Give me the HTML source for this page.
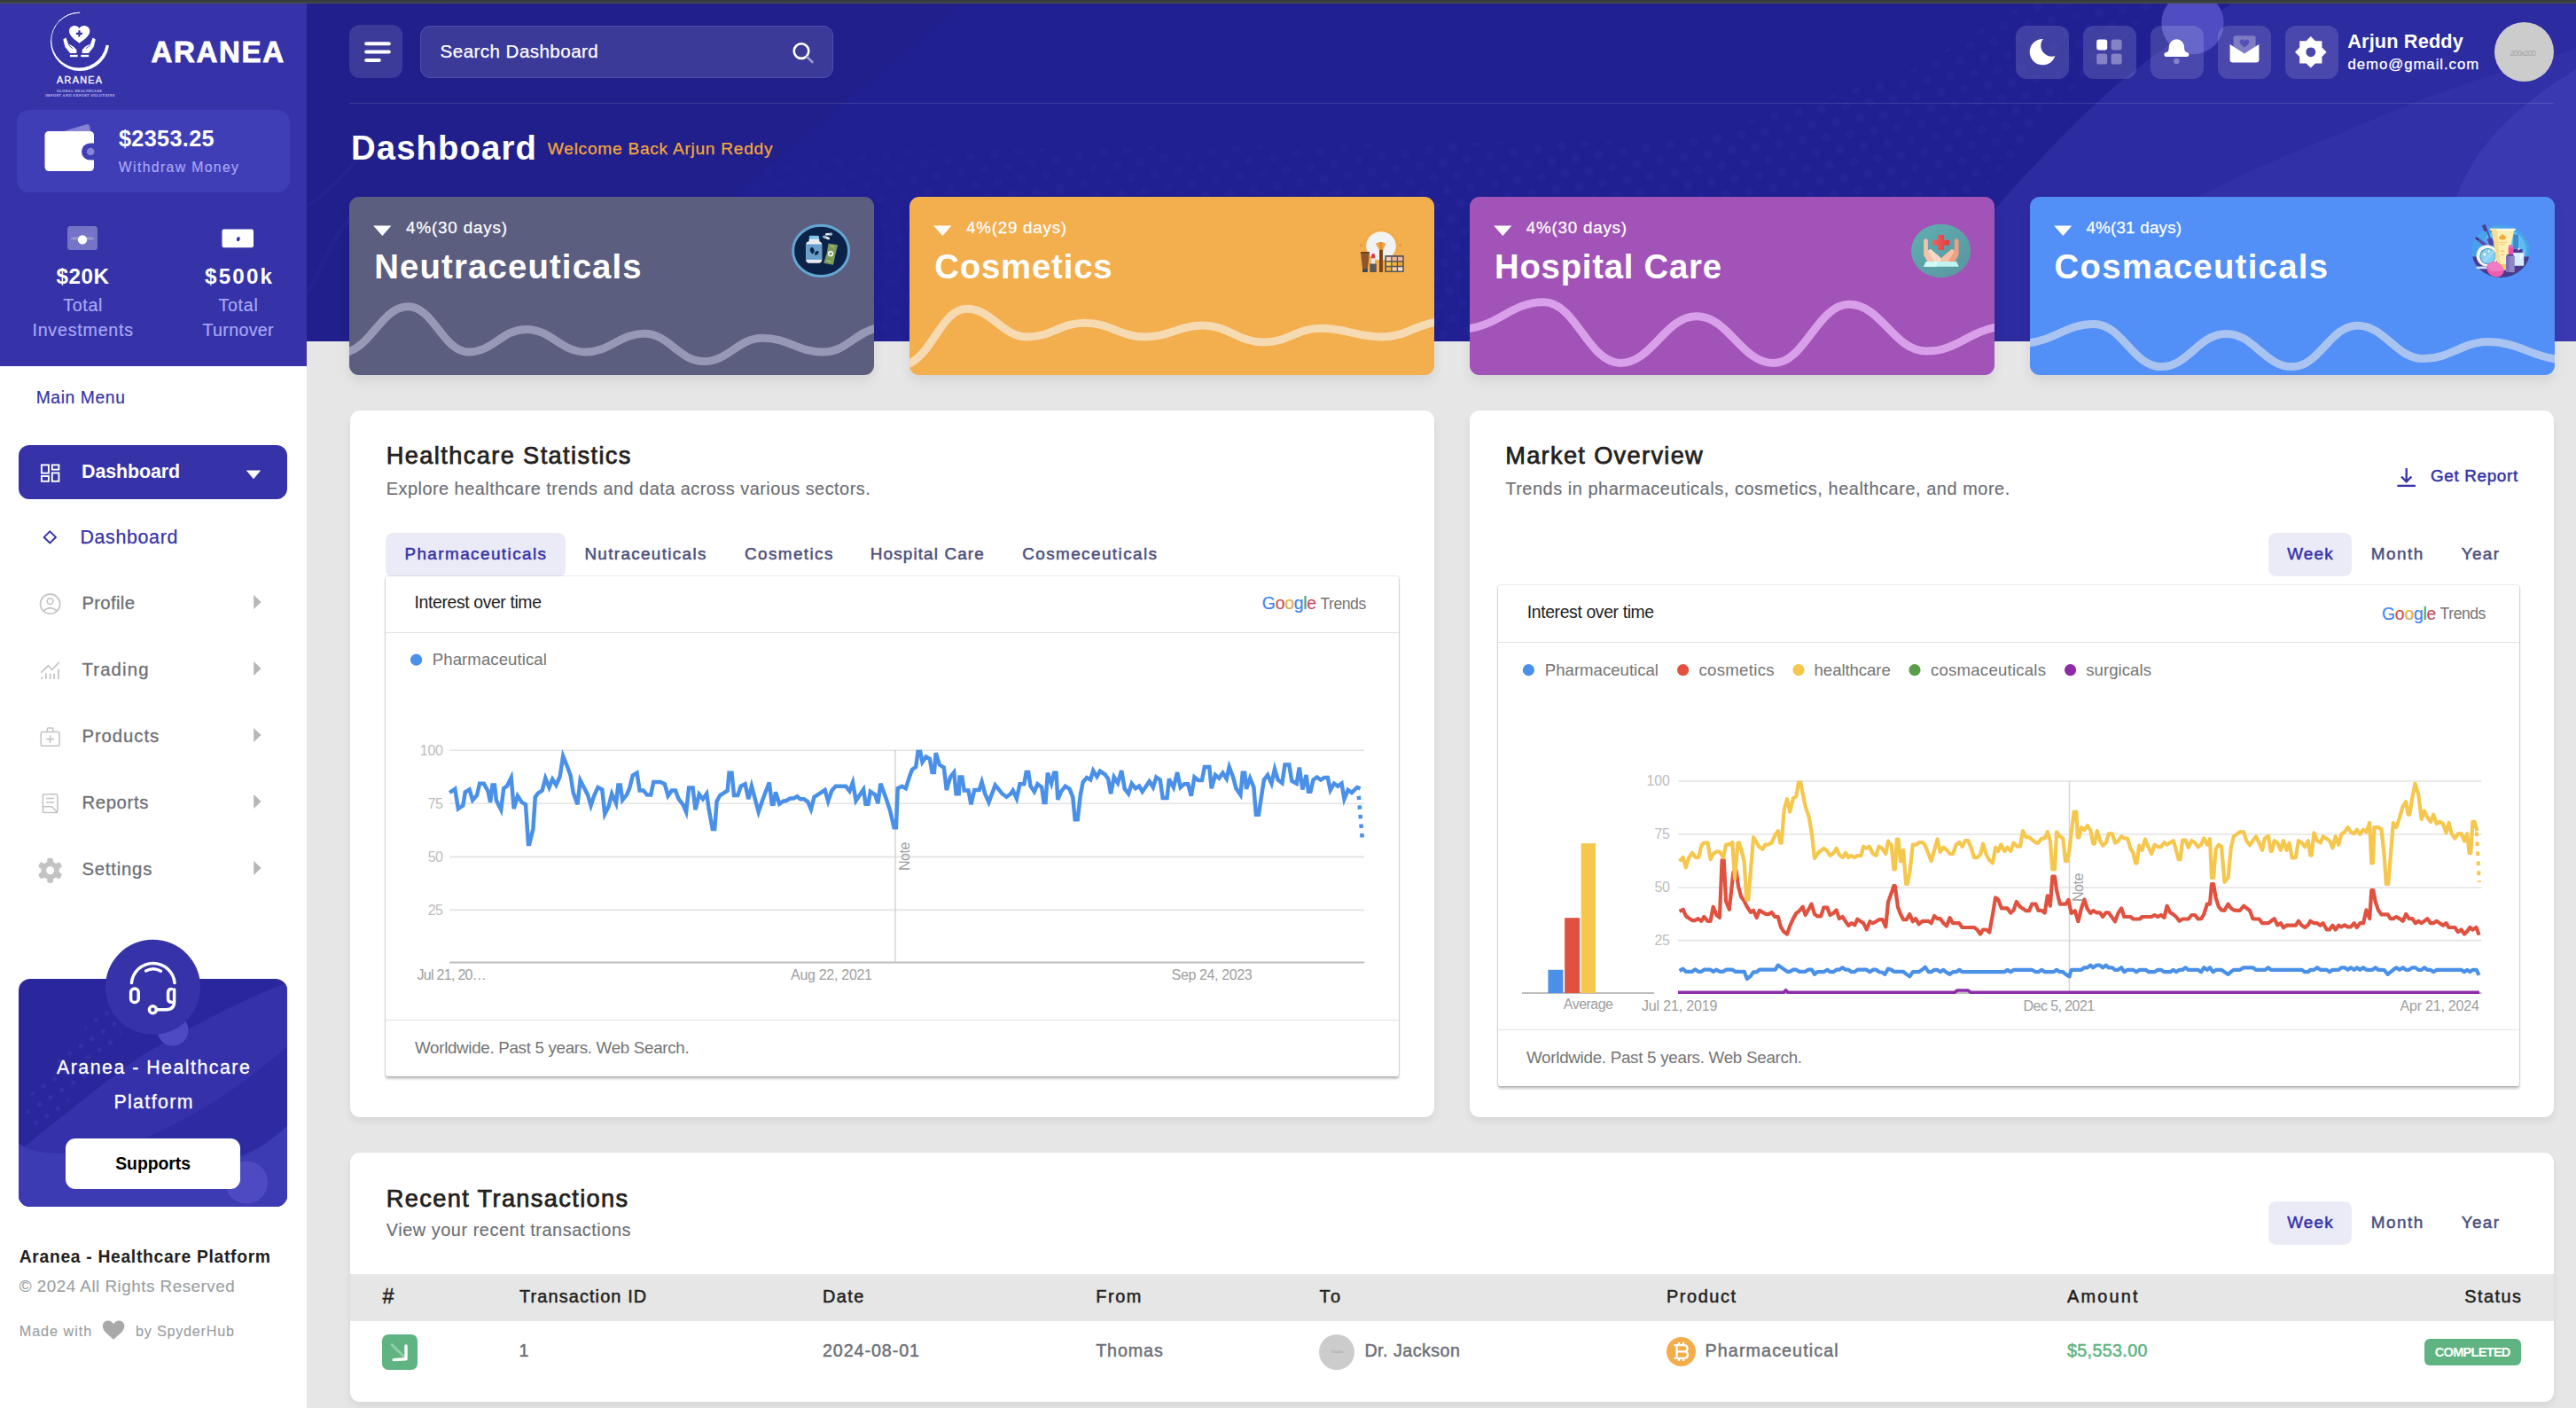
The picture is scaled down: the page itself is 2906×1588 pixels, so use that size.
<!DOCTYPE html>
<html lang="en"><head><meta charset="utf-8"><title>Aranea - Healthcare Platform</title><style>
*{box-sizing:border-box;margin:0;padding:0}
html,body{width:2906px;height:1588px;overflow:hidden;background:#e6e6e6;font-family:"Liberation Sans",sans-serif}
#root{position:relative;width:2906px;height:1588px;overflow:hidden}
.t{position:absolute;white-space:nowrap;line-height:1;font-family:"Liberation Sans",sans-serif}
.sf{font-family:"Liberation Serif",serif}
.mf{font-family:"Liberation Mono",monospace}
svg{position:absolute;overflow:visible}
</style></head><body><div id="root">
<div style="position:absolute;left:0px;top:0px;width:346px;height:1588px;background:#fff;"></div>
<div style="position:absolute;left:0px;top:0px;width:346px;height:413px;background:#3633a8;"></div>
<svg style="left:40px;top:6px" width="110" height="110" viewBox="40 6 110 110">
<defs><mask id="ringm" maskUnits="userSpaceOnUse" x="40" y="6" width="110" height="110">
<circle cx="90.15" cy="46.95" r="33.1" fill="#fff"/><circle cx="89.1" cy="45.6" r="30.9" fill="#000"/>
<path d="M89.6 46.2 L90.6 -13.8 L160 -20 L148.9 55.1 Z" fill="#000"/></mask></defs>
<rect x="40" y="6" width="110" height="110" fill="#fff" mask="url(#ringm)"/>
<path d="M88.9 14.3 Q76 14.6 66.5 24" fill="none" stroke="#fff" stroke-width=".9" stroke-linecap="round"/>
<g transform="translate(40 6) scale(0.078125)">
<path d="M634 548 C560 492 487 440 487 372 C487 322 524 293 566 293 C596 293 620 308 634 332 C648 308 672 293 702 293 C744 293 785 322 785 372 C785 440 708 492 634 548 Z" fill="#fff"/>
<path d="M619 363 H647 V394 H678 V422 H647 V453 H619 V422 H588 V394 H619 Z" fill="#3633a8"/>
<path d="M400 494 L440 468 L480 558 L552 598 L594 642 L594 692 L500 692 L428 600 Z" fill="#fff"/>
<path d="M868 494 L828 468 L788 558 L716 598 L674 642 L674 692 L768 692 L840 600 Z" fill="#fff"/>
<path d="M455 480 Q470 535 490 585 L540 625" fill="none" stroke="#3633a8" stroke-width="11"/>
<path d="M813 480 Q798 535 778 585 L728 625" fill="none" stroke="#3633a8" stroke-width="11"/>
<rect x="498" y="715" width="112" height="30" fill="#fff"/><rect x="656" y="715" width="114" height="30" fill="#fff"/>
</g></svg>
<div class="t" style="left:64.0px;top:84.8px;font-size:10.8px;color:#fff;font-weight:400;letter-spacing:1.32px;-webkit-text-stroke:0.3px #fff;">ARANEA</div>
<div class="t sf" style="left:64.0px;top:100.7px;font-size:4px;color:#cfcef2;font-weight:400;letter-spacing:0.48px;-webkit-text-stroke:0.1px #cfcef2;">GLOBAL HEALTHCARE</div>
<div class="t sf" style="left:51.2px;top:105.6px;font-size:4px;color:#cfcef2;font-weight:400;letter-spacing:0.55px;-webkit-text-stroke:0.1px #cfcef2;">IMPORT AND EXPORT SOLUTIONS</div>
<div class="t" style="left:170.6px;top:42.3px;font-size:33px;color:#fff;font-weight:700;letter-spacing:1.65px;-webkit-text-stroke:0.9px #fff;">ARANEA</div>
<div style="position:absolute;left:19px;top:124px;width:308px;height:93px;background:#403eb6;border-radius:14px;"></div>
<svg style="left:44px;top:134px" width="70" height="66" viewBox="44 134 70 66">
<path d="M70 148.5 L97.5 140.2 Q100.3 139.5 101 142.2 L102.4 148.5 Z" fill="#8583d2"/>
<path d="M55.5 148 H101 Q106 148 106 153 V188 Q106 193 101 193 H55.5 Q50.5 193 50.5 188 V153 Q50.5 148 55.5 148 Z" fill="#fff"/>
<path d="M106.2 161.4 H101.6 A9.6 9.6 0 0 0 101.6 180.6 H106.2 Z" fill="#403eb6"/>
<circle cx="102.2" cy="171" r="4.3" fill="#8583d2"/>
</svg>
<div class="t" style="left:134.0px;top:143.5px;font-size:25.2px;color:#fff;font-weight:700;letter-spacing:0.35px;">$2353.25</div>
<div class="t" style="left:133.8px;top:181.2px;font-size:15.8px;color:#a9a8f7;font-weight:400;letter-spacing:1.35px;-webkit-text-stroke:0.15px #a9a8f7;">Withdraw Money</div>
<svg style="left:70px;top:250px" width="230" height="40" viewBox="70 250 230 40">
<rect x="76" y="255" width="34" height="27" rx="3.5" fill="#7674c6"/>
<path d="M79.5 270.2 Q80 267.6 82.5 267.6 H103.5 Q106 267.6 106.5 270.2 Z" fill="#9a98d8"/>
<circle cx="93" cy="270.4" r="5.2" fill="#fff"/>
<rect x="250.5" y="258.6" width="35.5" height="20.6" rx="2.2" fill="#fff"/>
<ellipse cx="268.8" cy="269.6" rx="1.9" ry="2.6" fill="#3633a8" transform="rotate(20 268.8 269.6)"/>
</svg>
<div class="t" style="left:63.5px;top:300.3px;font-size:24.2px;color:#fff;font-weight:700;letter-spacing:0.52px;">$20K</div>
<div class="t" style="left:231.0px;top:300.3px;font-size:24.2px;color:#fff;font-weight:700;letter-spacing:2.18px;">$500k</div>
<div class="t" style="left:71.2px;top:334.5px;font-size:19.6px;color:#a9a8f7;font-weight:400;letter-spacing:0.70px;-webkit-text-stroke:0.2px #a9a8f7;">Total</div>
<div class="t" style="left:246.4px;top:334.5px;font-size:19.6px;color:#a9a8f7;font-weight:400;letter-spacing:0.75px;-webkit-text-stroke:0.2px #a9a8f7;">Total</div>
<div class="t" style="left:36.4px;top:362.7px;font-size:19.6px;color:#a9a8f7;font-weight:400;letter-spacing:0.81px;-webkit-text-stroke:0.2px #a9a8f7;">Investments</div>
<div class="t" style="left:228.4px;top:362.7px;font-size:19.6px;color:#a9a8f7;font-weight:400;letter-spacing:0.36px;-webkit-text-stroke:0.2px #a9a8f7;">Turnover</div>
<div class="t" style="left:40.7px;top:439.0px;font-size:19.3px;color:#3633a8;font-weight:400;letter-spacing:0.60px;-webkit-text-stroke:0.2px #3633a8;">Main Menu</div>
<div style="position:absolute;left:21px;top:502px;width:303px;height:61px;background:#3633a8;border-radius:12px;"></div>
<svg style="left:44px;top:520px" width="260" height="28" viewBox="44 520 260 28">
<g fill="none" stroke="#fff" stroke-width="1.9">
<rect x="46.9" y="524.4" width="8" height="9.2"/><rect x="58.8" y="524.4" width="7.6" height="5.2"/>
<rect x="46.9" y="537" width="8" height="5.8"/><rect x="58.8" y="533.4" width="7.6" height="9.4"/></g>
<path d="M277.8 530.6 H294.2 L286 540.2 Z" fill="#fff"/>
</svg>
<div class="t" style="left:92.0px;top:521.7px;font-size:21.4px;color:#fff;font-weight:700;letter-spacing:-0.07px;">Dashboard</div>
<svg style="left:44px;top:594px" width="30" height="24" viewBox="44 594 30 24">
<path d="M56.3 599.4 L62.9 605.9 L56.3 612.4 L49.7 605.9 Z" fill="none" stroke="#3633a8" stroke-width="2"/></svg>
<div class="t" style="left:90.4px;top:595.5px;font-size:21.4px;color:#3633a8;font-weight:400;letter-spacing:0.66px;-webkit-text-stroke:0.25px #3633a8;">Dashboard</div>
<div class="t" style="left:92.4px;top:669.8px;font-size:20.3px;color:#6c6f75;font-weight:400;letter-spacing:0.35px;-webkit-text-stroke:0.3px #6c6f75;">Profile</div>
<svg style="left:284px;top:669.1px" width="14" height="20" viewBox="0 0 14 20"><path d="M2.2 2 L10.6 10 L2.2 18 Z" fill="#b7b7b7"/></svg>
<div class="t" style="left:92.4px;top:744.6px;font-size:20.3px;color:#6c6f75;font-weight:400;letter-spacing:1.18px;-webkit-text-stroke:0.3px #6c6f75;">Trading</div>
<svg style="left:284px;top:743.9px" width="14" height="20" viewBox="0 0 14 20"><path d="M2.2 2 L10.6 10 L2.2 18 Z" fill="#b7b7b7"/></svg>
<div class="t" style="left:92.4px;top:819.8px;font-size:20.3px;color:#6c6f75;font-weight:400;letter-spacing:0.96px;-webkit-text-stroke:0.3px #6c6f75;">Products</div>
<svg style="left:284px;top:819.1px" width="14" height="20" viewBox="0 0 14 20"><path d="M2.2 2 L10.6 10 L2.2 18 Z" fill="#b7b7b7"/></svg>
<div class="t" style="left:92.4px;top:894.9px;font-size:20.3px;color:#6c6f75;font-weight:400;letter-spacing:0.66px;-webkit-text-stroke:0.3px #6c6f75;">Reports</div>
<svg style="left:284px;top:894.2px" width="14" height="20" viewBox="0 0 14 20"><path d="M2.2 2 L10.6 10 L2.2 18 Z" fill="#b7b7b7"/></svg>
<div class="t" style="left:92.4px;top:970.1px;font-size:20.3px;color:#6c6f75;font-weight:400;letter-spacing:0.81px;-webkit-text-stroke:0.3px #6c6f75;">Settings</div>
<svg style="left:284px;top:969.4px" width="14" height="20" viewBox="0 0 14 20"><path d="M2.2 2 L10.6 10 L2.2 18 Z" fill="#b7b7b7"/></svg>
<svg style="left:40px;top:664px" width="34" height="340" viewBox="40 664 34 340">
<g fill="none" stroke="#c3c3c3" stroke-width="1.55">
<circle cx="56.6" cy="681.2" r="11.1"/><circle cx="56.6" cy="678.1" r="3.4"/>
<path d="M48.9 689.3 Q56.6 682 64.3 689.3"/>
<path d="M46.4 758.6 L54.4 750.6 L58.6 755.4 L66.9 746.9" stroke-linejoin="miter"/>
<path d="M47.3 763.4 V766 M51.8 759 V766 M56.6 759.8 V766 M61.1 759.8 V766 M66 754.6 V766" stroke-width="1.7"/>
<rect x="46.3" y="825.5" width="20.7" height="15.8" rx="1.4"/>
<path d="M53.4 825.2 V822 Q53.4 820.9 54.5 820.9 H58.7 Q59.8 820.9 59.8 822 V825.2"/>
<path d="M56.6 829.3 V837.9 M52.3 833.6 H60.9"/>
<rect x="48.4" y="895.7" width="16.4" height="20.8" rx="1.4"/>
<path d="M52 900.5 H61 M52 905 H61"/>
<path d="M48.4 909.8 H58.6 L64.6 916.3"/>
</g>
<g fill="#c3c3c3"><circle cx="56.6" cy="981.8" r="10.3"/>
<rect x="53.2" y="967.7" width="6.8" height="9" rx="2.3" transform="rotate(0 56.6 981.8)"/><rect x="53.2" y="967.7" width="6.8" height="9" rx="2.3" transform="rotate(60 56.6 981.8)"/><rect x="53.2" y="967.7" width="6.8" height="9" rx="2.3" transform="rotate(120 56.6 981.8)"/><rect x="53.2" y="967.7" width="6.8" height="9" rx="2.3" transform="rotate(180 56.6 981.8)"/><rect x="53.2" y="967.7" width="6.8" height="9" rx="2.3" transform="rotate(240 56.6 981.8)"/><rect x="53.2" y="967.7" width="6.8" height="9" rx="2.3" transform="rotate(300 56.6 981.8)"/>
</g><circle cx="56.6" cy="981.8" r="4.5" fill="#fff"/>
</svg>
<svg style="left:21px;top:1056px" width="303" height="306" viewBox="21 1056 303 306">
<defs><clipPath id="scp"><rect x="21" y="1104" width="303" height="257" rx="13"/></clipPath>
<pattern id="sdots" x="0" y="0" width="15" height="15" patternUnits="userSpaceOnUse" patternTransform="rotate(-33)"><circle cx="4" cy="4" r="2.6" fill="#3532ab"/></pattern></defs>
<g clip-path="url(#scp)">
<rect x="21" y="1104" width="303" height="257" fill="#2a279c"/>
<path d="M21 1298 C80 1252 140 1202 169 1185 C230 1150 280 1125 324 1108 L324 1361 L21 1361 Z" fill="#3431aa"/>
<path d="M21 1350 C120 1290 200 1290 324 1180 L324 1361 L21 1361 Z" fill="#2e2ba2"/>
<path d="M21 1290 C70 1320 160 1275 215 1300 C260 1318 290 1300 324 1270 L324 1361 L21 1361 Z" fill="#3d3bb3"/>
<path d="M21 1250 L120 1130 L150 1150 L40 1290 Z" fill="url(#sdots)" opacity=".8"/>
<circle cx="278" cy="1333.5" r="24" fill="#4e4bc2"/>
</g>
<circle cx="195" cy="1162" r="17.5" fill="#4d4ac3"/>
<circle cx="172.5" cy="1113.3" r="53.6" fill="#3633a8"/>
<g fill="none" stroke="#fff" stroke-width="3.5" stroke-linecap="round">
<path d="M148.4 1108.6 A24.4 24.4 0 0 1 197 1108.6"/>
<path d="M164.6 1095 A17 17 0 0 1 181.4 1095.2"/>
<rect x="147.6" y="1115" width="8.6" height="15.6" rx="4.3"/>
<path d="M196.6 1116 V1129.6 Q196.6 1138.8 187.4 1138.8 H176.4"/>
<path d="M193.6 1130.2 Q189.6 1130.2 189.6 1126.2 V1119.6 Q189.6 1115.6 193.6 1115.6"/>
<circle cx="172.4" cy="1138.8" r="4"/>
</g>
</svg>
<div class="t" style="left:64.0px;top:1194.0px;font-size:21.3px;color:#fff;font-weight:400;letter-spacing:1.51px;-webkit-text-stroke:0.3px #fff;">Aranea - Healthcare</div>
<div class="t" style="left:128.4px;top:1233.2px;font-size:21.3px;color:#fff;font-weight:400;letter-spacing:1.39px;-webkit-text-stroke:0.3px #fff;">Platform</div>
<div style="position:absolute;left:74px;top:1284px;width:197px;height:57px;background:#fff;border-radius:11px;"></div>
<div class="t" style="left:130.2px;top:1303.2px;font-size:19.4px;color:#000;font-weight:700;letter-spacing:-0.04px;">Supports</div>
<div class="t" style="left:21.7px;top:1407.7px;font-size:19.3px;color:#231f20;font-weight:700;letter-spacing:0.69px;">Aranea - Healthcare Platform</div>
<div class="t" style="left:21.7px;top:1442.0px;font-size:18.8px;color:#9a9fa3;font-weight:400;letter-spacing:0.52px;-webkit-text-stroke:0.15px #9a9fa3;">© 2024 All Rights Reserved</div>
<div class="t" style="left:21.7px;top:1493.3px;font-size:16.2px;color:#9a9fa3;font-weight:400;letter-spacing:0.96px;-webkit-text-stroke:0.15px #9a9fa3;">Made with</div>
<svg style="left:113px;top:1487px" width="30" height="27" viewBox="113 1487 30 27">
<path d="M128.1 1510.8 C122 1505.4 115.8 1501.4 115.8 1495.6 C115.8 1491.8 118.6 1489.4 121.8 1489.4 C124.6 1489.4 126.8 1491 128.1 1493.4 C129.4 1491 131.6 1489.4 134.4 1489.4 C137.6 1489.4 140.4 1491.8 140.4 1495.6 C140.4 1501.4 134.2 1505.4 128.1 1510.8 Z" fill="#a9a9a9"/></svg>
<div class="t" style="left:153.1px;top:1493.3px;font-size:16.2px;color:#9a9fa3;font-weight:400;letter-spacing:0.75px;-webkit-text-stroke:0.15px #9a9fa3;">by SpyderHub</div>
<svg style="left:346px;top:0px" width="2560" height="385" viewBox="346 0 2560 385">
<defs>
<pattern id="hdots" x="0" y="0" width="27" height="32" patternUnits="userSpaceOnUse" patternTransform="rotate(-8)"><circle cx="7" cy="8" r="5" fill="#2b29a0"/><circle cx="20.5" cy="24" r="5" fill="#2b29a0"/></pattern>
<linearGradient id="hfade" x1="700" y1="0" x2="2500" y2="0" gradientUnits="userSpaceOnUse"><stop offset="0" stop-color="#fff" stop-opacity="0"/><stop offset=".2" stop-color="#fff" stop-opacity=".55"/><stop offset=".7" stop-color="#fff" stop-opacity=".9"/><stop offset="1" stop-color="#fff" stop-opacity=".7"/></linearGradient>
<mask id="hmask" maskUnits="userSpaceOnUse" x="346" y="0" width="2560" height="385"><rect x="346" y="0" width="2560" height="385" fill="url(#hfade)"/></mask>
</defs>
<rect x="346" y="0" width="2560" height="385" fill="#212093"/>
<path d="M346 0 L1092 0 L630 385 L346 385 Z" fill="#211f8b"/>
<g mask="url(#hmask)" opacity=".42">
<path d="M700 385 L700 218 L960 170 L1900 158 L2150 82 L2290 0 L2440 0 L2330 110 L2215 240 L2110 385 Z" fill="url(#hdots)"/>
</g>
<path d="M346 232 C372 217 388 197 404 178" fill="none" stroke="#2b299b" stroke-width="4" opacity=".45"/>
<path d="M346 332 C366 302 372 264 404 238" fill="none" stroke="#2a2899" stroke-width="6" opacity=".4"/>
<path d="M2120 385 C2205 290 2285 190 2365 116 C2420 66 2475 30 2525 0 L2906 0 L2906 385 Z" fill="#2d2ba0"/>
<path d="M2330 385 C2400 300 2440 250 2478 222 C2540 190 2640 150 2720 117 C2800 85 2860 70 2906 55 L2906 385 Z" fill="#3230a6"/>
<path d="M2735 385 C2745 300 2760 250 2771 222 C2790 170 2830 125 2906 78 L2906 385 Z" fill="#3b39b1"/>
<circle cx="2473.5" cy="26" r="35.2" fill="#4f4dc1"/>
</svg>
<div style="position:absolute;left:0px;top:0px;width:2906px;height:4px;background:linear-gradient(#343a3d 0,#363c3e 45%,#4a4a47 75%,#4a4a46 100%);"></div>
<div style="position:absolute;left:394px;top:28px;width:60px;height:60px;background:#3d3b9a;border-radius:12px;"></div>
<svg style="left:408px;top:44px" width="36" height="28" viewBox="408 44 36 28">
<g stroke="#fff" stroke-width="4" stroke-linecap="round"><path d="M413.2 49.2 H438.8"/><path d="M413.2 58.4 H438.8"/><path d="M413.2 68 H427.8"/></g></svg>
<div style="position:absolute;left:474px;top:29px;width:466px;height:59px;background:#3c3a99;border:1px solid #504eab;border-radius:11px;"></div>
<div class="t" style="left:496.6px;top:48.2px;font-size:20.6px;color:#fff;font-weight:400;letter-spacing:0.43px;-webkit-text-stroke:0.25px #fff;">Search Dashboard</div>
<svg style="left:890px;top:44px" width="32" height="32" viewBox="890 44 32 32">
<circle cx="904" cy="57.6" r="8.3" fill="none" stroke="#fff" stroke-width="2.6"/>
<path d="M910.6 64.4 L916.4 70" stroke="#9d9cd4" stroke-width="2.6" stroke-linecap="round"/></svg>
<div style="position:absolute;left:2274px;top:29px;width:60px;height:60px;background:rgba(255,255,255,.14);border-radius:12px;"></div>
<div style="position:absolute;left:2350px;top:29px;width:60px;height:60px;background:rgba(255,255,255,.14);border-radius:12px;"></div>
<div style="position:absolute;left:2426px;top:29px;width:60px;height:60px;background:rgba(255,255,255,.14);border-radius:12px;"></div>
<div style="position:absolute;left:2502px;top:29px;width:60px;height:60px;background:rgba(255,255,255,.14);border-radius:12px;"></div>
<div style="position:absolute;left:2578px;top:29px;width:60px;height:60px;background:rgba(255,255,255,.14);border-radius:12px;"></div>
<svg style="left:2274px;top:29px" width="364" height="60" viewBox="2274 29 364 60">
<mask id="moonm" maskUnits="userSpaceOnUse" x="2284" y="38" width="40" height="40"><rect x="2284" y="38" width="40" height="40" fill="#000"/><circle cx="2304.4" cy="58.6" r="14.7" fill="#fff"/><circle cx="2314.6" cy="51.4" r="12.3" fill="#000"/></mask>
<rect x="2284" y="38" width="40" height="40" fill="#fff" mask="url(#moonm)"/>
<rect x="2365.2" y="44.4" width="12" height="12" rx="2.6" fill="#fff"/>
<rect x="2381.6" y="44.4" width="12" height="12" rx="2.6" fill="#8583c6"/>
<rect x="2365.2" y="60.6" width="12" height="12" rx="2.6" fill="#8583c6"/>
<rect x="2381.6" y="60.6" width="12" height="12" rx="2.6" fill="#8583c6"/>
<path d="M2441.4 61.4 Q2441.4 59 2444 58.9 Q2446.2 58.6 2446.5 56 L2447 51 A8.6 8.6 0 0 1 2463.8 51 L2464.3 56 Q2464.6 58.6 2466.8 58.9 Q2469.4 59 2469.4 61.4 Q2469.4 63.9 2466.8 63.9 H2444 Q2441.4 63.9 2441.4 61.4 Z" fill="#fff"/>
<circle cx="2455.4" cy="69" r="3.3" fill="#8583c6"/>
<rect x="2519.6" y="40.2" width="25" height="20" rx="2" fill="#7e7cc4"/>
<path d="M2532 53.6 C2529 51 2526.6 49.4 2526.6 47 C2526.6 45.4 2527.8 44.4 2529.2 44.4 C2530.4 44.4 2531.4 45 2532 46 C2532.6 45 2533.6 44.4 2534.8 44.4 C2536.2 44.4 2537.4 45.4 2537.4 47 C2537.4 49.4 2535 51 2532 53.6 Z" fill="#5250b4"/>
<path d="M2515.6 50 L2532 60.4 L2548.4 50 V67.6 Q2548.4 70.6 2545.4 70.6 H2518.6 Q2515.6 70.6 2515.6 67.6 Z" fill="#fff"/>
<path fill="#fff" fill-rule="evenodd" d="M2606.8 41 L2612 46.2 L2619.4 46.2 L2619.4 53.6 L2624.6 58.8 L2619.4 64 L2619.4 71.4 L2612 71.4 L2606.8 76.6 L2601.6 71.4 L2594.2 71.4 L2594.2 64 L2589 58.8 L2594.2 53.6 L2594.2 46.2 L2601.6 46.2 Z M2606.8 53.4 a5.4 5.4 0 1 0 0.001 0 Z"/>
</svg>
<div class="t" style="left:2648.2px;top:35.7px;font-size:21.7px;color:#fff;font-weight:700;letter-spacing:0.17px;">Arjun Reddy</div>
<div class="t" style="left:2648.4px;top:65.4px;font-size:16.8px;color:#fff;font-weight:400;letter-spacing:0.95px;-webkit-text-stroke:0.25px #fff;">demo@gmail.com</div>
<div style="position:absolute;left:2814.1px;top:24.8px;width:67.2px;height:67.4px;background:#cccccc;border-radius:50%;"></div>
<div class="t" style="left:2831.4px;top:54.9px;font-size:9.4px;color:#a6a6a6;font-weight:400;letter-spacing:-1.06px;">200x200</div>
<div style="position:absolute;left:394px;top:116px;width:2487px;height:1px;background:rgba(255,255,255,.13);"></div>
<div class="t" style="left:396.0px;top:147.8px;font-size:38.3px;color:#fff;font-weight:700;letter-spacing:1.10px;">Dashboard</div>
<div class="t" style="left:617.8px;top:158.2px;font-size:19.2px;color:#f5a83a;font-weight:400;letter-spacing:0.71px;-webkit-text-stroke:0.25px #f5a83a;">Welcome Back Arjun Reddy</div>
<div style="position:absolute;left:394.3px;top:222px;width:592px;height:201px;background:#5c5e80;border-radius:11px;box-shadow:0 7px 13px rgba(0,0,0,.075);overflow:hidden;"><svg style="left:0;top:0" width="592" height="201" viewBox="394.3 222 592 201"><path d="M390.0 397.6 C419.7 391.4 431.0 345.8 460.7 345.8 C489.4 345.8 500.3 397.0 529.0 397.0 C556.3 397.0 566.7 371.4 594.0 371.4 C622.1 371.4 632.9 397.0 661.0 397.0 C688.7 397.0 699.3 376.2 727.0 376.2 C755.4 376.2 766.1 407.6 794.5 407.6 C822.3 407.6 832.8 381.2 860.6 381.2 C889.3 381.2 900.3 397.0 929.0 397.0 C954.6 397.0 964.4 375.6 990.0 369.6" fill="none" stroke="#9798b6" stroke-width="9" stroke-linecap="round"/></svg></div>
<svg style="left:420.3px;top:250px" width="24" height="20" viewBox="0 0 24 20"><path d="M1.2 4.4 H21.4 L11.3 16.1 Z" fill="#fff"/></svg>
<div class="t" style="left:458.1px;top:248.4px;font-size:18.8px;color:#fff;font-weight:400;letter-spacing:0.85px;-webkit-text-stroke:0.25px #fff;">4%(30 days)</div>
<div class="t" style="left:422.3px;top:281.5px;font-size:38.3px;color:#fff;font-weight:700;letter-spacing:1.15px;">Neutraceuticals</div>
<div style="position:absolute;left:1026.2px;top:222px;width:592px;height:201px;background:#f3ae4d;border-radius:11px;box-shadow:0 7px 13px rgba(0,0,0,.075);overflow:hidden;"><svg style="left:0;top:0" width="592" height="201" viewBox="1026.2 222 592 201"><path d="M1022.0 411.5 C1050.9 403.9 1061.8 348.2 1090.7 348.2 C1119.4 348.2 1130.3 380.0 1159.0 380.0 C1186.3 380.0 1196.7 364.2 1224.0 364.2 C1252.8 364.2 1263.7 380.0 1292.5 380.0 C1319.6 380.0 1329.9 367.0 1357.0 367.0 C1385.9 367.0 1396.9 386.0 1425.8 386.0 C1453.0 386.0 1463.4 370.2 1490.6 370.2 C1519.3 370.2 1530.3 380.0 1559.0 380.0 C1585.5 380.0 1595.5 366.7 1622.0 363.0" fill="none" stroke="#f6dab2" stroke-width="9" stroke-linecap="round"/></svg></div>
<svg style="left:1052.2px;top:250px" width="24" height="20" viewBox="0 0 24 20"><path d="M1.2 4.4 H21.4 L11.3 16.1 Z" fill="#fff"/></svg>
<div class="t" style="left:1090.0px;top:248.4px;font-size:18.8px;color:#fff;font-weight:400;letter-spacing:0.76px;-webkit-text-stroke:0.25px #fff;">4%(29 days)</div>
<div class="t" style="left:1054.2px;top:281.5px;font-size:38.3px;color:#fff;font-weight:700;letter-spacing:0.84px;">Cosmetics</div>
<div style="position:absolute;left:1658px;top:222px;width:592px;height:201px;background:#a253b8;border-radius:11px;box-shadow:0 7px 13px rgba(0,0,0,.075);overflow:hidden;"><svg style="left:0;top:0" width="592" height="201" viewBox="1658 222 592 201"><path d="M1654.0 371.0 C1690.8 367.4 1704.8 340.8 1741.5 340.8 C1777.8 340.8 1791.7 409.4 1828.0 409.4 C1864.1 409.4 1877.9 356.8 1914.0 356.8 C1950.4 356.8 1964.3 409.4 2000.7 409.4 C2036.5 409.4 2050.2 343.2 2086.0 343.2 C2122.5 343.2 2136.5 396.0 2173.0 396.0 C2206.8 396.0 2219.7 374.6 2253.5 368.6" fill="none" stroke="#d9a0ea" stroke-width="9" stroke-linecap="round"/></svg></div>
<svg style="left:1684px;top:250px" width="24" height="20" viewBox="0 0 24 20"><path d="M1.2 4.4 H21.4 L11.3 16.1 Z" fill="#fff"/></svg>
<div class="t" style="left:1721.8px;top:248.4px;font-size:18.8px;color:#fff;font-weight:400;letter-spacing:0.78px;-webkit-text-stroke:0.25px #fff;">4%(30 days)</div>
<div class="t" style="left:1686.0px;top:281.5px;font-size:38.3px;color:#fff;font-weight:700;letter-spacing:0.76px;">Hospital Care</div>
<div style="position:absolute;left:2289.6px;top:222px;width:592px;height:201px;background:#528ff6;border-radius:11px;box-shadow:0 7px 13px rgba(0,0,0,.075);overflow:hidden;"><svg style="left:0;top:0" width="592" height="201" viewBox="2289.6 222 592 201"><path d="M2286.0 387.0 C2317.8 384.4 2329.9 365.4 2361.7 365.4 C2393.5 365.4 2405.7 413.6 2437.5 413.6 C2468.4 413.6 2480.1 376.4 2511.0 376.4 C2542.3 376.4 2554.2 413.6 2585.5 413.6 C2616.4 413.6 2628.1 367.2 2659.0 367.2 C2690.3 367.2 2702.2 404.6 2733.5 404.6 C2764.3 404.6 2776.0 385.6 2806.8 385.6 C2840.1 385.6 2852.7 401.2 2886.0 405.6" fill="none" stroke="#a9c4f1" stroke-width="9" stroke-linecap="round"/></svg></div>
<svg style="left:2315.6px;top:250px" width="24" height="20" viewBox="0 0 24 20"><path d="M1.2 4.4 H21.4 L11.3 16.1 Z" fill="#fff"/></svg>
<div class="t" style="left:2353.4px;top:248.4px;font-size:18.8px;color:#fff;font-weight:400;letter-spacing:0.22px;-webkit-text-stroke:0.25px #fff;">4%(31 days)</div>
<div class="t" style="left:2317.6px;top:281.5px;font-size:38.3px;color:#fff;font-weight:700;letter-spacing:1.29px;">Cosmaceuticals</div>
<svg style="left:880px;top:240px" width="120" height="85" viewBox="880 240 120 85">
<g transform="translate(880 240) scale(0.060361)">
<ellipse cx="764" cy="711" rx="522" ry="475" fill="#0b2349" stroke="#64a6d2" stroke-width="49"/>
<rect x="545" y="425" width="183" height="75" rx="20" fill="#7dc4e8"/>
<path d="M540 490 H735 V560 H540 Z" fill="#e8eaed"/>
<rect x="485" y="535" width="297" height="405" rx="62" fill="#e8eaed"/>
<rect x="485" y="592" width="297" height="278" fill="#699fc8"/>
<rect x="485" y="592" width="297" height="17" fill="#5a98d4"/><rect x="485" y="853" width="297" height="17" fill="#5a98d4"/>
<path d="M603 770 C535 705 555 655 598 642 C655 680 655 735 603 770 Z" fill="#0b2349"/>
<path d="M652 790 C636 742 668 712 718 714 C730 762 700 796 652 790 Z" fill="#0b2349"/>
<path d="M905 570 L1080 600 Q1028 780 995 975 L815 940 Q882 760 905 570 Z" fill="#7c9c58"/>
<circle cx="945" cy="765" r="39" fill="none" stroke="#fff" stroke-width="24"/>
<path d="M925 790 L968 742" stroke="#7c9c58" stroke-width="14"/>
<path d="M945 618 L1012 640 M868 898 L952 918" stroke="#dfe8d2" stroke-width="14" opacity=".8"/>
<g transform="rotate(-3 912 400)"><rect x="845" y="380" width="134" height="42" rx="21" fill="#eceef0"/><path d="M915 380 H958 A21 21 0 0 1 958 422 H915 Z" fill="#8cc4ec"/></g>
<g transform="rotate(22 865 464)"><rect x="798" y="443" width="134" height="42" rx="21" fill="#eceef0"/><path d="M862 443 H819 A21 21 0 0 0 819 485 H862 Z" fill="#8cc4ec"/></g>
</g></svg>
<svg style="left:1515px;top:240px" width="120" height="85" viewBox="1515 240 120 85">
<g transform="translate(1515 240) scale(0.060361)">
<ellipse cx="711" cy="620" rx="316" ry="306" fill="none" stroke="#f0a53c" stroke-width="16" opacity=".75"/>
<path d="M330 607 H356 M1058 607 H1084" stroke="#e8863a" stroke-width="26" stroke-linecap="round"/>
<path d="M640 905 H790" stroke="#f0a53c" stroke-width="26"/>
<ellipse cx="711" cy="620" rx="279" ry="268" fill="#f1f2f3"/>
<path d="M612 575 Q705 515 802 575 L748 695 H678 Z" fill="#f0a23c"/>
<path d="M690 545 H728 L722 695 H700 Z" fill="#e0882c"/>
<rect x="680" y="690" width="66" height="420" rx="10" fill="#7a3e14"/>
<rect x="722" y="700" width="24" height="400" fill="#8a4a1c"/>
<path d="M330 730 H497 L462 1048 H365 Z" fill="#8e562c"/>
<path d="M330 730 H497 L495 752 H332 Z" fill="#6a3818"/>
<rect x="365" y="1045" width="97" height="64" rx="6" fill="#3f4a56"/>
<rect x="502" y="950" width="123" height="160" rx="8" fill="#58585a"/>
<rect x="526" y="848" width="74" height="104" fill="#e6e6e8"/>
<path d="M531 850 V800 Q534 762 566 760 Q596 764 598 800 V850 Z" fill="#dc3c4c"/>
<rect x="783" y="795" width="357" height="316" rx="14" fill="#55575a"/>
<g>
<rect x="812" y="825" width="86" height="70" fill="#f8d0bc"/><rect x="920" y="825" width="86" height="70" fill="#f0b49a"/><rect x="1028" y="825" width="86" height="70" fill="#f2b8a2"/>
<rect x="812" y="920" width="86" height="70" fill="#f6d04a"/><rect x="920" y="920" width="86" height="70" fill="#f4b43c"/><rect x="1028" y="920" width="86" height="70" fill="#f0a030"/>
<rect x="812" y="1015" width="86" height="70" fill="#f4b03a"/><rect x="920" y="1015" width="86" height="70" fill="#f6c8b0"/><rect x="1028" y="1015" width="86" height="70" fill="#fadccc"/>
</g></g></svg>
<svg style="left:2140px;top:240px" width="120" height="85" viewBox="2140 240 120 85">
<defs><linearGradient id="hg" x1="0" y1="0" x2="1" y2="1"><stop offset="0" stop-color="#5eb0b2"/><stop offset="1" stop-color="#5c949f"/></linearGradient>
<linearGradient id="cg" x1="0" y1="0" x2="1" y2="0"><stop offset="0" stop-color="#f0605c"/><stop offset="1" stop-color="#e23a42"/></linearGradient></defs>
<g transform="translate(2140 240) scale(0.060361)">
<ellipse cx="821.5" cy="711" rx="556" ry="501" fill="url(#hg)"/>
<path d="M768 415 H880 V510 H980 V605 H880 V695 H768 V605 H668 V510 H768 Z" fill="url(#cg)"/>
<path d="M500 525 Q500 486 539 486 Q578 486 578 525 V715 Q600 672 640 688 L825 850 V912 H570 L500 790 Z" fill="#f5c2a8"/>
<path d="M578 715 Q600 672 640 688 L825 850 V912 H700 Z" fill="#f8d8c8"/>
<path d="M1152 525 Q1152 486 1113 486 Q1074 486 1074 525 V715 Q1052 672 1012 688 L827 850 V912 H1082 L1152 790 Z" fill="#f0a080"/>
<path d="M1074 715 Q1052 672 1012 688 L827 850 V912 H955 Z" fill="#f5c2a8"/>
<path d="M545 912 H1112 L1158 1005 H498 Z" fill="#c0f4f0"/>
<path d="M545 912 H760 L740 1005 H498 Z" fill="#d2faf6"/>
</g></svg>
<svg style="left:2770px;top:240px" width="120" height="85" viewBox="2770 240 120 85">
<defs><clipPath id="ccp"><ellipse cx="847.5" cy="717.5" rx="542.5" ry="492.5"/></clipPath></defs>
<g transform="translate(2770 240) scale(0.060361)">
<g clip-path="url(#ccp)">
<rect x="300" y="220" width="1100" height="1000" fill="#48a4ea"/>
<ellipse cx="900" cy="700" rx="420" ry="400" fill="#62bcf4"/>
<ellipse cx="560" cy="820" rx="260" ry="330" fill="#489ee6" opacity=".7"/>
<rect x="300" y="820" width="1100" height="400" fill="#4a3a8c"/>
</g>
<path d="M495 240 L560 215 L600 330 L545 350 Z" fill="#4a3c90"/>
<path d="M575 335 L600 325 L660 470 L632 482 Z" fill="#5548a4"/>
<path d="M590 490 Q640 440 690 480 L735 600 L640 620 Z" fill="#5548a4"/>
<path d="M365 455 L420 462 L610 600 L560 650 L390 500 Z" fill="#5a4cae"/>
<path d="M365 455 L420 462 L440 500 L395 505 Z" fill="#3a2e7c"/>
<rect x="1080" y="405" width="96" height="300" rx="10" fill="#3c8ccc"/>
<rect x="390" y="1004" width="420" height="44" rx="20" fill="#c8e4f8"/>
<circle cx="590" cy="802" r="200" fill="#f4f6fc"/>
<circle cx="604" cy="812" r="150" fill="#2a8a8e"/>
<circle cx="606" cy="814" r="138" fill="#84cef4"/>
<path d="M500 900 L700 690 L740 730 L545 935 Z" fill="#a6dcf8" opacity=".8"/>
<path d="M545 735 l14 30 l30 14 l-30 14 l-14 30 l-14 -30 l-30 -14 l30 -14 Z M625 690 l9 20 l20 9 l-20 9 l-9 20 l-9 -20 l-20 -9 l20 -9 Z" fill="#fff"/>
<path d="M650 295 H1125 L1118 332 H656 Z" fill="#fdf6e6"/>
<path d="M650 295 H770 L772 332 H656 Z" fill="#f8e6a4"/>
<path d="M680 330 H1095 L945 1070 H800 Z" fill="#faf0b6"/>
<path d="M680 330 H780 L850 1070 H800 Z" fill="#f8dc90"/>
<path d="M790 960 H966 L945 1070 H800 Z" fill="#f6c860"/>
<path d="M880 392 C900 425 945 430 945 470 C945 500 915 505 880 505 C845 505 815 500 815 470 C815 430 862 425 880 392 Z" fill="#f2a83c"/>
<path d="M795 552 H968 M835 592 H930" stroke="#f4c070" stroke-width="14"/>
<path d="M850 716 H910" stroke="#f2a83c" stroke-width="16" stroke-linecap="round"/><circle cx="881" cy="780" r="15" fill="#f2a83c"/>
<rect x="1080" y="680" width="172" height="70" rx="8" fill="#4a3c90"/>
<rect x="1080" y="745" width="200" height="246" rx="8" fill="#d6ecfc"/>
<rect x="1210" y="780" width="34" height="80" rx="8" fill="#fff" opacity=".7"/>
<path d="M1182 650 l8 22 l22 8 l-22 8 l-8 22 l-8 -22 l-22 -8 l22 -8 Z" fill="#fff"/>
<path d="M990 800 V650 Q992 602 1032 600 Q1072 604 1075 650 V800 Z" fill="#f04ca8"/>
<path d="M1000 640 Q1030 610 1062 640 Q1030 668 1000 640 Z" fill="#f47cc4"/>
<rect x="960" y="778" width="126" height="40" rx="10" fill="#4a3c90"/>
<rect x="945" y="805" width="162" height="306" rx="10" fill="#9086c8"/>
<rect x="945" y="805" width="60" height="306" rx="10" fill="#7c70bc"/>
<ellipse cx="742" cy="1058" rx="168" ry="132" fill="#f05cb0" transform="rotate(28 742 1058)"/>
<path d="M595 1000 Q640 900 760 920 Q860 950 895 1075 Q760 1110 640 1080 Z" fill="#f07cc2"/>
</g></svg>
<div style="position:absolute;left:395px;top:462.6px;width:1223px;height:797px;background:#fff;border-radius:11px;box-shadow:0 5px 10px rgba(20,20,50,.065);"></div>
<div style="position:absolute;left:1658px;top:462.6px;width:1223px;height:797px;background:#fff;border-radius:11px;box-shadow:0 5px 10px rgba(20,20,50,.065);"></div>
<div class="t" style="left:435.8px;top:500.4px;font-size:27.2px;color:#231f20;font-weight:400;letter-spacing:1.39px;-webkit-text-stroke:0.75px #231f20;">Healthcare Statistics</div>
<div class="t" style="left:435.8px;top:541.9px;font-size:19.9px;color:#6c6f75;font-weight:400;letter-spacing:0.48px;-webkit-text-stroke:0.15px #6c6f75;">Explore healthcare trends and data across various sectors.</div>
<div style="position:absolute;left:435.4px;top:601px;width:202.4px;height:50px;background:#ebebf7;border-radius:8.5px;"></div>
<div class="t" style="left:456.4px;top:616.0px;font-size:18.9px;color:#3633a8;font-weight:400;letter-spacing:1.43px;-webkit-text-stroke:0.5px #3633a8;">Pharmaceuticals</div>
<div class="t" style="left:659.4px;top:616.0px;font-size:18.9px;color:#4d4f7c;font-weight:400;letter-spacing:1.33px;-webkit-text-stroke:0.5px #4d4f7c;">Nutraceuticals</div>
<div class="t" style="left:840.0px;top:616.0px;font-size:18.9px;color:#4d4f7c;font-weight:400;letter-spacing:1.40px;-webkit-text-stroke:0.5px #4d4f7c;">Cosmetics</div>
<div class="t" style="left:981.8px;top:616.0px;font-size:18.9px;color:#4d4f7c;font-weight:400;letter-spacing:1.13px;-webkit-text-stroke:0.5px #4d4f7c;">Hospital Care</div>
<div class="t" style="left:1153.2px;top:616.0px;font-size:18.9px;color:#4d4f7c;font-weight:400;letter-spacing:1.42px;-webkit-text-stroke:0.5px #4d4f7c;">Cosmeceuticals</div>
<div style="position:absolute;left:434.9px;top:649.5px;width:1143.3px;height:564.7px;background:#fff;border-radius:2.5px;box-shadow:0 0 0 1px rgba(0,0,0,.07),0 1px 2px rgba(0,0,0,.12),0 2.5px 3px rgba(0,0,0,.2);"></div>
<div class="t" style="left:467.6px;top:669.6px;font-size:19.4px;color:#212121;font-weight:400;letter-spacing:-0.38px;">Interest over time</div>
<div class="t" style="left:1423.8px;top:671.4px;font-size:19.4px;color:#4285f4;font-weight:400;letter-spacing:-0.24px;-webkit-text-stroke:0.2px #4285f4;"><span style="color:#4285f4">G</span><span style="color:#ea4335">o</span><span style="color:#fbbc05">o</span><span style="color:#4285f4">g</span><span style="color:#34a853">l</span><span style="color:#ea4335">e</span></div>
<div class="t" style="left:1489.4px;top:672.9px;font-size:17.6px;color:#757575;font-weight:400;letter-spacing:-0.46px;">Trends</div>
<div style="position:absolute;left:434.9px;top:712.8px;width:1143.3px;height:1.4px;background:#e3e3e3;"></div>
<div style="position:absolute;left:434.9px;top:1149.6px;width:1143.3px;height:1.4px;background:#e3e3e3;"></div>
<div class="t" style="left:468.0px;top:1173.1px;font-size:18.8px;color:#757575;font-weight:400;letter-spacing:-0.32px;">Worldwide. Past 5 years. Web Search.</div>
<svg style="left:435px;top:720px" width="1142" height="425" viewBox="435 720 1142 425">
<circle cx="469.6" cy="744.2" r="6.6" fill="#4a90e8"/>
<path d="M507.2 846.3 H1539.2" stroke="#e3e3e3" stroke-width="1.6"/><path d="M507.2 906.3 H1539.2" stroke="#e3e3e3" stroke-width="1.6"/><path d="M507.2 966.4 H1539.2" stroke="#e3e3e3" stroke-width="1.6"/><path d="M507.2 1026.4 H1539.2" stroke="#e3e3e3" stroke-width="1.6"/>
<path d="M1010 846 V1085.4" stroke="#d6d6d6" stroke-width="1.6"/>
<path d="M507.2 1085.6 H1539.2" stroke="#bdbdbd" stroke-width="2"/>
<clipPath id="lc"><rect x="505" y="845.6" width="1040" height="250"/></clipPath>
<path clip-path="url(#lc)" d="M507.2 894.0 L513.3 889.8 L516.9 912.1 L522.3 908.5 L524.8 893.4 L529.6 890.4 L533.2 902.4 L538.0 897.0 L541.1 883.7 L545.9 883.7 L550.7 892.8 L553.1 904.9 L555.5 885.5 L558.0 885.5 L559.8 902.4 L565.2 913.3 L568.2 889.2 L571.8 886.7 L576.7 877.1 L579.7 912.1 L583.9 897.6 L588.7 904.9 L593.0 907.3 L596.0 952.0 L597.2 952.0 L601.4 935.0 L603.8 898.8 L606.9 894.6 L611.7 891.6 L615.3 877.7 L619.5 888.0 L623.2 878.9 L627.4 885.5 L631.6 875.9 L635.2 852.9 L640.1 865.0 L643.7 874.7 L646.7 894.0 L651.5 907.3 L654.6 880.1 L659.4 889.2 L663.0 896.4 L666.6 908.5 L670.2 897.6 L674.5 888.0 L679.3 890.4 L682.3 918.1 L686.5 909.7 L690.2 895.2 L695.0 906.1 L697.4 885.5 L699.8 885.5 L702.2 902.4 L707.1 896.4 L710.1 889.2 L713.7 874.7 L718.5 871.7 L721.6 891.6 L725.8 891.6 L730.0 896.4 L734.2 896.4 L737.3 881.9 L745.1 881.9 L749.9 884.3 L753.6 897.6 L757.8 891.6 L762.0 891.6 L765.6 901.2 L770.5 907.3 L774.1 915.7 L777.1 888.6 L779.5 888.6 L781.5 888.6 L784.5 913.3 L788.7 895.8 L792.9 901.2 L797.2 895.2 L799.6 912.1 L803.8 935.0 L806.2 935.0 L808.6 903.7 L812.3 897.0 L820.7 891.6 L822.5 871.7 L825.5 871.7 L828.0 897.0 L832.2 897.0 L835.8 886.7 L840.6 884.3 L844.3 901.2 L847.9 886.7 L855.7 915.7 L860.6 901.2 L867.8 882.5 L870.8 906.7 L872.6 906.7 L875.0 893.4 L879.3 906.7 L883.5 903.7 L887.1 903.0 L891.3 900.6 L895.0 900.6 L899.2 898.2 L902.8 901.2 L907.0 901.2 L911.3 904.3 L914.9 912.7 L918.5 898.8 L930.6 891.0 L934.2 903.7 L938.4 891.6 L942.7 886.7 L954.1 886.7 L958.4 892.2 L962.0 882.5 L965.6 903.0 L974.1 890.4 L976.5 906.7 L979.5 906.7 L981.9 892.8 L987.3 896.4 L990.4 906.1 L993.4 883.7 L999.4 900.0 L1004.2 914.5 L1008.5 933.2 L1010.9 933.2 L1012.7 889.2 L1017.5 886.7 L1021.8 889.2 L1026.0 875.9 L1029.0 868.0 L1033.2 865.0 L1035.6 847.5 L1038.1 847.5 L1040.5 859.6 L1044.7 853.5 L1048.9 856.0 L1051.5 871.1 L1053.9 871.1 L1055.7 849.3 L1059.9 862.6 L1064.8 865.6 L1067.8 891.0 L1072.0 876.5 L1076.2 871.1 L1078.6 895.2 L1081.7 895.2 L1082.5 876.5 L1085.3 876.5 L1087.7 891.6 L1092.5 891.6 L1095.5 907.3 L1099.2 891.0 L1104.6 891.0 L1107.6 881.9 L1111.2 895.2 L1115.5 904.9 L1122.7 885.5 L1130.6 895.2 L1135.4 898.8 L1140.2 895.2 L1142.6 891.6 L1146.9 900.6 L1150.5 884.3 L1155.3 884.3 L1157.7 871.1 L1160.1 871.1 L1162.6 886.7 L1166.8 892.8 L1170.4 884.3 L1175.2 888.0 L1177.6 904.9 L1179.5 904.9 L1181.9 871.7 L1186.1 883.7 L1189.1 871.7 L1191.5 871.7 L1193.3 901.8 L1197.0 892.8 L1201.8 886.7 L1206.6 889.8 L1210.2 898.8 L1212.7 924.2 L1215.7 924.2 L1218.7 897.6 L1221.7 881.9 L1225.9 877.1 L1230.2 879.5 L1233.2 869.2 L1237.4 875.9 L1241.0 869.8 L1246.5 873.5 L1250.1 878.3 L1253.1 895.2 L1256.7 876.5 L1261.0 883.1 L1265.2 869.2 L1268.8 889.8 L1273.0 895.2 L1276.7 883.7 L1280.9 889.2 L1285.1 886.7 L1288.7 892.8 L1296.6 881.3 L1300.8 888.0 L1304.4 876.5 L1308.7 879.5 L1311.7 900.0 L1316.5 900.0 L1318.9 878.3 L1319.7 880.7 L1323.9 888.0 L1328.1 871.1 L1331.7 888.0 L1336.0 884.3 L1340.2 884.3 L1343.8 897.6 L1347.4 876.5 L1351.7 880.1 L1355.9 880.1 L1358.9 865.0 L1364.3 865.0 L1366.7 889.2 L1371.0 874.1 L1375.2 877.7 L1379.4 871.7 L1383.7 878.3 L1386.7 865.0 L1390.9 875.9 L1394.5 889.2 L1399.4 896.4 L1401.8 871.7 L1404.2 871.7 L1406.0 889.8 L1410.2 877.7 L1414.4 888.0 L1416.9 918.7 L1419.9 918.7 L1422.9 898.8 L1425.9 879.5 L1430.1 874.1 L1434.4 883.7 L1438.0 867.4 L1441.6 879.5 L1446.4 883.1 L1449.5 862.6 L1454.3 862.6 L1457.3 880.7 L1462.7 883.7 L1465.8 865.6 L1469.4 890.4 L1473.6 874.1 L1476.0 892.8 L1478.4 892.8 L1481.5 879.5 L1485.7 876.5 L1489.9 879.5 L1494.1 877.1 L1497.8 877.1 L1500.8 891.0 L1505.0 883.7 L1509.2 886.7 L1513.5 883.7 L1516.5 901.2 L1520.7 891.0 L1524.9 894.0 L1531.0 888.0 L1534.6 889.4" fill="none" stroke="#4a90e8" stroke-width="4.5" stroke-linejoin="miter" stroke-miterlimit="4"/>
<path d="M1532.8 897.8 L1536.7 945.0" fill="none" stroke="#4a90e8" stroke-width="4.5" stroke-dasharray="4.4 6.2"/>
</svg>
<div class="t" style="left:487.8px;top:735.1px;font-size:18.6px;color:#757575;font-weight:400;letter-spacing:0.07px;">Pharmaceutical</div>
<div class="t" style="left:473.8px;top:838.6px;font-size:16px;color:#bdbdbd;font-weight:400;letter-spacing:-0.25px;">100</div>
<div class="t" style="left:482.8px;top:898.6px;font-size:16px;color:#bdbdbd;font-weight:400;letter-spacing:-0.60px;">75</div>
<div class="t" style="left:482.8px;top:958.7px;font-size:16px;color:#bdbdbd;font-weight:400;letter-spacing:-0.60px;">50</div>
<div class="t" style="left:482.8px;top:1018.7px;font-size:16px;color:#bdbdbd;font-weight:400;letter-spacing:-0.60px;">25</div>
<div class="t" style="left:470.6px;top:1091.7px;font-size:16px;color:#9e9e9e;font-weight:400;letter-spacing:-0.72px;">Jul 21, 20…</div>
<div class="t" style="left:892.0px;top:1091.7px;font-size:16px;color:#9e9e9e;font-weight:400;letter-spacing:-0.29px;">Aug 22, 2021</div>
<div class="t" style="left:1321.6px;top:1091.7px;font-size:16px;color:#9e9e9e;font-weight:400;letter-spacing:-0.38px;">Sep 24, 2023</div>
<div class="t" style="left:1004.6px;top:958.1px;font-size:16px;color:#9e9e9e;font-weight:400;letter-spacing:-0.45px;transform:rotate(-90deg);transform-origin:50% 50%;">Note</div>
<div class="t" style="left:1698.2px;top:500.4px;font-size:27.2px;color:#231f20;font-weight:400;letter-spacing:1.33px;-webkit-text-stroke:0.75px #231f20;">Market Overview</div>
<div class="t" style="left:1698.2px;top:541.9px;font-size:19.9px;color:#6c6f75;font-weight:400;letter-spacing:0.56px;-webkit-text-stroke:0.15px #6c6f75;">Trends in pharmaceuticals, cosmetics, healthcare, and more.</div>
<svg style="left:2700px;top:524px" width="30" height="30" viewBox="2700 524 30 30">
<g fill="none" stroke="#3633a8" stroke-width="2.35"><path d="M2714.7 528.1 V542.6"/><path d="M2709 537.5 L2714.7 543.3 L2720.4 537.5"/><path d="M2704.4 547.9 H2724.9"/></g></svg>
<div class="t" style="left:2741.9px;top:527.9px;font-size:18.9px;color:#3633a8;font-weight:400;letter-spacing:0.66px;-webkit-text-stroke:0.5px #3633a8;">Get Report</div>
<div style="position:absolute;left:2559px;top:601px;width:93.8px;height:49px;background:#ebebf7;border-radius:8.5px;"></div>
<div class="t" style="left:2580.2px;top:616.0px;font-size:18.9px;color:#3633a8;font-weight:400;letter-spacing:1.15px;-webkit-text-stroke:0.5px #3633a8;">Week</div>
<div class="t" style="left:2674.8px;top:616.0px;font-size:18.9px;color:#4d4f7c;font-weight:400;letter-spacing:1.52px;-webkit-text-stroke:0.5px #4d4f7c;">Month</div>
<div class="t" style="left:2776.8px;top:616.0px;font-size:18.9px;color:#4d4f7c;font-weight:400;letter-spacing:1.34px;-webkit-text-stroke:0.5px #4d4f7c;">Year</div>
<div style="position:absolute;left:1689.6px;top:660.4px;width:1152px;height:564.8px;background:#fff;border-radius:2.5px;box-shadow:0 0 0 1px rgba(0,0,0,.07),0 1px 2px rgba(0,0,0,.12),0 2.5px 3px rgba(0,0,0,.2);"></div>
<div class="t" style="left:1722.8px;top:680.6px;font-size:19.4px;color:#212121;font-weight:400;letter-spacing:-0.38px;">Interest over time</div>
<div class="t" style="left:2687.0px;top:682.6px;font-size:19.4px;color:#4285f4;font-weight:400;letter-spacing:-0.24px;-webkit-text-stroke:0.2px #4285f4;"><span style="color:#4285f4">G</span><span style="color:#ea4335">o</span><span style="color:#fbbc05">o</span><span style="color:#4285f4">g</span><span style="color:#34a853">l</span><span style="color:#ea4335">e</span></div>
<div class="t" style="left:2752.6px;top:684.1px;font-size:17.6px;color:#757575;font-weight:400;letter-spacing:-0.46px;">Trends</div>
<div style="position:absolute;left:1689.6px;top:723.8px;width:1152px;height:1.4px;background:#e3e3e3;"></div>
<div style="position:absolute;left:1689.6px;top:1160.6px;width:1152px;height:1.4px;background:#e3e3e3;"></div>
<div class="t" style="left:1722.0px;top:1184.3px;font-size:18.8px;color:#757575;font-weight:400;letter-spacing:-0.28px;">Worldwide. Past 5 years. Web Search.</div>
<svg style="left:1690px;top:730px" width="1150" height="425" viewBox="1690 730 1150 425">
<circle cx="1724.4" cy="755.7" r="6.6" fill="#4a90e8"/><circle cx="1898.6" cy="755.7" r="6.6" fill="#e0513f"/><circle cx="2029" cy="755.7" r="6.6" fill="#f6c74d"/><circle cx="2160" cy="755.7" r="6.6" fill="#5a9e4c"/><circle cx="2335.6" cy="755.7" r="6.6" fill="#8e2ca8"/><path d="M1893 881 H2799.6" stroke="#e3e3e3" stroke-width="1.6"/><path d="M1893 941 H2799.6" stroke="#e3e3e3" stroke-width="1.6"/><path d="M1893 1001 H2799.6" stroke="#e3e3e3" stroke-width="1.6"/><path d="M1893 1060.6 H2799.6" stroke="#e3e3e3" stroke-width="1.6"/>
<path d="M2334.5 881 V1120" stroke="#d6d6d6" stroke-width="1.6"/>
<path d="M1717 1120 H1866" stroke="#bdbdbd" stroke-width="2"/>
<path d="M1893 1120 H2799.6" stroke="#bdbdbd" stroke-width="2"/>
<rect x="1746.4" y="1093.8" width="17" height="26.2" fill="#4a90e8"/>
<rect x="1765.1" y="1035.2" width="17" height="84.8" fill="#e0513f"/>
<rect x="1783.6" y="951.2" width="16.4" height="168.8" fill="#f6c74d"/>
<path d="M1893 1119.2 H2012.2 L2014.6 1117 L2017 1119.2 H2205 L2208 1117 H2220 L2223 1119.2 H2797" fill="none" stroke="#8e2ca8" stroke-width="3.6"/>
<path d="M1894.6 1094.8 L1898.7 1092.7 L1901.8 1095.8 L1909.0 1095.8 L1912.1 1093.3 L1915.8 1095.8 L1919.3 1095.8 L1922.4 1093.7 L1929.6 1093.7 L1932.7 1095.8 L1936.4 1093.7 L1939.9 1095.8 L1944.0 1095.8 L1947.1 1093.7 L1954.3 1093.7 L1957.4 1095.8 L1967.7 1095.8 L1970.8 1104.0 L1974.9 1100.9 L1978.0 1096.4 L1981.7 1096.4 L1984.8 1093.7 L2002.7 1093.7 L2005.8 1088.6 L2008.9 1090.7 L2012.6 1093.3 L2016.1 1095.8 L2019.2 1095.8 L2022.9 1093.7 L2026.4 1093.7 L2029.5 1095.8 L2036.7 1095.8 L2039.8 1093.7 L2043.9 1093.7 L2047.0 1098.9 L2050.1 1096.2 L2057.3 1096.2 L2061.4 1093.7 L2064.5 1096.2 L2068.2 1096.2 L2071.7 1093.7 L2074.8 1093.7 L2078.5 1091.3 L2082.0 1093.7 L2085.1 1093.7 L2088.8 1096.2 L2092.3 1096.2 L2095.4 1093.7 L2105.7 1093.7 L2109.4 1096.2 L2112.9 1093.7 L2116.4 1093.7 L2120.1 1096.2 L2123.6 1096.8 L2126.3 1098.9 L2130.0 1092.7 L2133.7 1093.8 L2136.4 1095.8 L2147.1 1095.8 L2150.8 1098.9 L2154.3 1101.4 L2157.8 1096.2 L2164.6 1096.2 L2168.3 1093.8 L2171.8 1090.7 L2175.5 1096.2 L2178.6 1096.2 L2182.1 1093.8 L2185.6 1093.8 L2188.7 1096.2 L2192.4 1093.8 L2196.1 1096.9 L2199.6 1098.9 L2203.1 1096.2 L2206.8 1096.2 L2210.3 1093.8 L2213.6 1096.2 L2261.4 1096.2 L2264.5 1093.8 L2268.2 1096.2 L2271.7 1093.8 L2292.3 1093.8 L2296.4 1096.2 L2299.5 1096.2 L2303.2 1093.8 L2306.7 1096.2 L2316.6 1096.2 L2320.1 1093.8 L2323.8 1096.2 L2327.3 1096.2 L2330.4 1098.9 L2334.5 1101.4 L2336.6 1093.8 L2347.9 1093.8 L2351.4 1091.3 L2354.7 1091.3 L2358.2 1088.6 L2361.3 1091.3 L2365.4 1088.6 L2368.9 1088.6 L2372.2 1091.3 L2375.7 1088.6 L2378.8 1091.3 L2382.9 1091.3 L2386.0 1093.8 L2389.5 1093.8 L2393.2 1091.3 L2396.3 1096.2 L2400.0 1093.8 L2403.4 1093.8 L2406.5 1093.8 L2410.2 1096.2 L2413.7 1093.8 L2420.5 1093.8 L2424.0 1096.2 L2430.6 1096.2 L2434.3 1093.8 L2437.8 1093.8 L2441.5 1096.2 L2448.3 1096.2 L2451.8 1093.8 L2454.9 1096.2 L2458.6 1093.8 L2462.1 1093.8 L2465.6 1091.3 L2468.7 1093.8 L2479.6 1093.8 L2483.1 1096.2 L2486.2 1091.3 L2489.9 1093.8 L2493.0 1091.3 L2496.5 1096.2 L2500.2 1093.8 L2506.0 1093.8 L2509.5 1096.2 L2513.6 1098.9 L2516.7 1096.2 L2519.8 1093.8 L2527.0 1093.8 L2531.1 1091.3 L2541.4 1091.3 L2544.9 1093.8 L2555.4 1093.8 L2558.9 1091.3 L2562.0 1093.8 L2596.6 1093.8 L2600.1 1096.2 L2603.8 1096.2 L2606.3 1093.8 L2610.4 1093.8 L2614.1 1091.3 L2617.6 1093.8 L2624.8 1093.8 L2627.9 1096.2 L2631.4 1093.8 L2638.2 1093.8 L2641.3 1091.3 L2645.0 1091.3 L2648.5 1093.8 L2652.0 1091.3 L2655.7 1093.8 L2658.8 1091.3 L2662.3 1093.8 L2666.0 1091.3 L2669.5 1093.8 L2676.3 1093.8 L2680.0 1091.3 L2682.9 1093.8 L2689.5 1093.8 L2693.6 1098.9 L2699.8 1093.8 L2703.3 1091.3 L2707.0 1093.8 L2710.7 1091.3 L2714.2 1093.8 L2717.7 1093.8 L2721.4 1091.3 L2724.9 1091.3 L2728.2 1093.8 L2731.7 1093.8 L2734.8 1091.3 L2738.3 1093.8 L2742.0 1093.8 L2745.1 1096.2 L2748.8 1093.8 L2776.6 1093.8 L2780.1 1096.2 L2783.2 1093.8 L2786.3 1096.2 L2789.4 1093.8 L2793.5 1093.8 L2796.6 1099.9" fill="none" stroke="#4a90e8" stroke-width="4.2" stroke-linejoin="round"/>
<path d="M1894.6 1027.8 L1898.7 1025.8 L1901.8 1033.0 L1905.9 1036.1 L1909.0 1038.1 L1912.1 1038.1 L1915.8 1036.1 L1919.3 1038.8 L1922.4 1034.0 L1926.5 1038.8 L1929.6 1038.8 L1932.7 1022.7 L1936.4 1032.0 L1939.9 1035.0 L1942.6 970.2 L1944.7 970.2 L1947.1 1016.5 L1950.8 1025.8 L1955.4 983.6 L1958.5 981.5 L1961.1 1000.0 L1964.2 1011.4 L1967.3 1015.5 L1970.8 1022.7 L1974.9 1028.9 L1978.0 1026.8 L1981.7 1035.0 L1984.8 1026.8 L1988.3 1028.9 L1992.0 1030.9 L1995.5 1030.9 L1998.6 1028.9 L2002.3 1034.0 L2005.8 1034.0 L2008.9 1045.3 L2012.0 1050.5 L2016.1 1053.6 L2019.2 1044.3 L2022.9 1036.1 L2026.4 1029.9 L2029.5 1027.8 L2033.6 1022.7 L2036.7 1032.0 L2040.8 1024.8 L2043.5 1019.6 L2047.0 1030.9 L2050.1 1033.4 L2054.2 1033.4 L2057.3 1023.7 L2061.4 1023.7 L2064.5 1032.0 L2068.2 1029.9 L2071.7 1026.4 L2074.8 1036.1 L2078.5 1034.0 L2082.0 1039.2 L2085.5 1043.9 L2088.8 1041.2 L2092.3 1043.3 L2095.4 1036.7 L2099.1 1039.2 L2102.2 1041.2 L2105.7 1048.4 L2109.4 1039.2 L2112.9 1041.2 L2116.4 1039.2 L2120.1 1037.1 L2123.6 1037.1 L2127.3 1045.3 L2130.0 1017.5 L2133.7 1007.3 L2136.4 999.0 L2137.8 999.0 L2140.9 1022.7 L2144.0 1031.0 L2147.1 1037.1 L2150.8 1037.1 L2154.3 1031.0 L2157.8 1039.2 L2161.1 1036.1 L2164.6 1042.3 L2168.3 1039.2 L2171.8 1038.8 L2175.5 1038.8 L2178.6 1041.2 L2182.1 1033.0 L2185.6 1036.1 L2188.7 1036.1 L2192.4 1041.2 L2196.1 1044.3 L2199.6 1035.1 L2203.1 1041.2 L2206.8 1041.2 L2210.3 1041.2 L2213.6 1046.0 L2217.1 1046.0 L2220.2 1046.0 L2223.9 1046.0 L2227.0 1046.0 L2230.5 1048.5 L2234.0 1053.6 L2237.1 1048.5 L2240.8 1048.5 L2244.3 1051.5 L2248.0 1031.0 L2251.1 1012.4 L2254.2 1014.5 L2257.9 1024.4 L2261.4 1024.4 L2264.5 1024.4 L2268.2 1029.5 L2271.7 1026.4 L2274.8 1016.9 L2278.9 1022.7 L2282.0 1024.8 L2285.7 1027.2 L2289.2 1027.2 L2292.3 1019.6 L2296.4 1019.6 L2299.5 1026.8 L2303.2 1026.8 L2306.7 1029.5 L2309.8 1010.4 L2312.9 1021.7 L2315.3 988.7 L2318.0 988.7 L2320.1 1004.2 L2323.8 1019.6 L2327.3 1019.6 L2330.4 1019.6 L2333.5 1014.9 L2336.6 1029.9 L2340.7 1027.2 L2344.4 1039.2 L2347.9 1024.8 L2351.4 1014.5 L2354.7 1024.8 L2358.2 1029.9 L2361.3 1027.2 L2365.4 1029.3 L2368.9 1029.3 L2372.2 1034.0 L2375.7 1029.3 L2378.8 1029.3 L2382.9 1035.1 L2386.0 1039.2 L2389.5 1029.9 L2393.2 1024.4 L2396.3 1034.0 L2400.0 1034.0 L2403.4 1034.0 L2406.5 1036.5 L2410.2 1036.5 L2413.7 1036.5 L2416.8 1034.0 L2420.5 1034.0 L2424.0 1034.0 L2427.1 1034.0 L2430.6 1032.0 L2434.3 1034.0 L2437.8 1032.0 L2441.5 1034.7 L2444.6 1021.7 L2448.3 1029.3 L2451.8 1031.4 L2454.9 1034.0 L2458.6 1038.8 L2462.1 1036.5 L2465.6 1036.5 L2468.7 1036.5 L2472.4 1032.0 L2476.1 1032.0 L2479.6 1036.5 L2483.1 1036.1 L2486.2 1031.4 L2489.9 1019.6 L2493.0 1019.6 L2495.0 997.0 L2497.1 997.0 L2499.6 1012.4 L2502.9 1022.7 L2506.0 1026.4 L2509.5 1026.8 L2513.6 1019.6 L2516.7 1024.2 L2519.8 1026.4 L2523.3 1026.8 L2527.0 1026.8 L2531.1 1021.7 L2534.2 1024.2 L2537.9 1026.8 L2541.4 1036.1 L2544.9 1036.5 L2548.6 1036.5 L2552.1 1041.2 L2555.4 1041.2 L2558.9 1041.2 L2562.0 1038.8 L2565.7 1036.1 L2569.2 1043.3 L2572.9 1041.2 L2576.0 1046.4 L2579.5 1043.7 L2583.2 1043.7 L2586.7 1043.7 L2589.8 1043.7 L2592.9 1038.8 L2596.6 1043.7 L2600.1 1046.0 L2603.8 1043.3 L2606.3 1038.8 L2610.4 1041.2 L2614.1 1041.2 L2617.6 1043.7 L2620.7 1041.2 L2624.8 1048.5 L2627.9 1048.5 L2631.4 1043.7 L2634.7 1048.5 L2638.2 1043.7 L2641.3 1045.4 L2645.0 1043.3 L2648.5 1045.4 L2652.0 1045.4 L2655.7 1041.2 L2658.8 1046.0 L2662.3 1041.2 L2666.0 1041.2 L2669.5 1026.4 L2673.2 1036.1 L2675.3 1004.2 L2677.3 1004.2 L2679.6 1016.5 L2682.9 1026.4 L2686.4 1031.4 L2689.5 1031.4 L2693.6 1031.4 L2696.7 1036.1 L2699.8 1036.1 L2703.3 1034.0 L2707.0 1036.1 L2710.7 1038.8 L2714.2 1031.0 L2717.7 1036.1 L2721.4 1036.1 L2724.9 1041.2 L2728.2 1038.8 L2731.7 1041.2 L2734.8 1038.8 L2738.3 1036.1 L2742.0 1041.2 L2745.1 1041.2 L2748.8 1038.8 L2752.3 1041.2 L2756.0 1043.7 L2759.5 1041.2 L2762.6 1046.0 L2765.7 1046.0 L2769.4 1046.0 L2772.9 1051.1 L2776.6 1048.5 L2780.1 1053.6 L2783.2 1050.5 L2786.3 1046.0 L2789.4 1048.5 L2793.5 1046.0 L2796.6 1054.6" fill="none" stroke="#e0513f" stroke-width="4.2" stroke-linejoin="round"/>
<clipPath id="rc"><rect x="1890" y="880.4" width="915" height="250"/></clipPath>
<path clip-path="url(#rc)" d="M1894.6 971.2 L1898.7 967.1 L1901.8 978.4 L1904.9 968.1 L1909.0 961.9 L1913.1 967.1 L1916.2 967.1 L1919.3 953.7 L1922.4 950.6 L1926.5 950.6 L1929.6 969.1 L1932.7 963.0 L1936.8 960.5 L1939.9 960.5 L1944.0 967.1 L1947.1 952.7 L1950.2 952.7 L1954.3 950.0 L1957.0 990.8 L1960.5 950.6 L1962.0 950.6 L1964.6 958.9 L1967.7 972.2 L1970.2 1014.5 L1972.3 1014.5 L1978.0 944.4 L1984.2 954.7 L1988.3 957.8 L1991.4 952.7 L1994.5 952.7 L1998.6 950.6 L2002.7 941.3 L2005.8 937.2 L2008.3 950.6 L2009.7 950.6 L2012.6 913.5 L2016.1 901.2 L2019.2 915.6 L2022.9 900.2 L2026.4 898.1 L2029.1 881.6 L2031.2 881.6 L2033.6 895.0 L2036.7 909.4 L2040.8 921.8 L2043.9 940.3 L2047.0 968.1 L2051.1 961.9 L2057.3 956.8 L2061.4 959.9 L2064.5 965.0 L2068.6 961.9 L2071.7 956.8 L2074.8 964.0 L2078.9 967.1 L2082.0 961.9 L2085.1 967.1 L2088.2 965.0 L2092.3 967.1 L2095.4 965.0 L2099.5 965.0 L2102.2 954.7 L2105.7 956.8 L2108.8 954.7 L2112.9 963.0 L2116.4 965.0 L2119.5 954.7 L2123.2 956.8 L2127.3 963.0 L2130.0 948.6 L2130.6 950.6 L2133.7 952.7 L2136.4 980.5 L2137.8 980.5 L2139.9 946.5 L2141.5 946.5 L2144.0 971.2 L2145.4 971.2 L2147.1 958.9 L2150.2 997.0 L2151.8 997.0 L2154.3 984.6 L2157.8 952.7 L2161.5 952.7 L2165.2 950.0 L2168.7 950.0 L2171.8 953.7 L2175.5 963.0 L2178.6 971.2 L2182.1 958.9 L2185.6 946.5 L2188.7 960.9 L2192.4 955.8 L2196.5 958.9 L2199.6 963.0 L2203.1 963.0 L2206.8 952.7 L2210.3 950.0 L2213.6 954.7 L2217.1 948.2 L2220.2 948.2 L2223.9 956.8 L2227.0 967.1 L2230.5 967.1 L2234.0 964.0 L2237.1 951.7 L2240.8 964.0 L2244.3 970.2 L2248.0 973.3 L2251.1 955.8 L2254.2 959.9 L2257.3 952.7 L2261.4 959.9 L2264.5 955.8 L2268.2 959.9 L2271.7 950.6 L2275.4 954.7 L2278.9 954.7 L2282.0 937.2 L2285.7 944.4 L2289.2 944.4 L2292.9 947.5 L2297.0 950.6 L2299.5 950.6 L2303.2 945.5 L2306.7 945.5 L2309.8 938.3 L2312.9 948.6 L2315.3 980.5 L2318.0 980.5 L2320.1 938.3 L2323.8 943.4 L2327.3 945.5 L2330.0 971.2 L2332.0 971.2 L2334.5 958.9 L2336.6 940.3 L2339.7 915.6 L2342.3 915.6 L2343.8 944.4 L2345.4 944.4 L2347.9 933.1 L2351.4 936.2 L2354.7 931.1 L2358.2 936.2 L2361.3 951.7 L2362.9 951.7 L2365.8 937.2 L2368.9 947.5 L2372.2 953.7 L2375.7 950.6 L2378.8 940.3 L2382.9 940.3 L2386.0 950.6 L2389.5 948.6 L2393.2 943.4 L2396.3 945.5 L2400.0 945.5 L2403.4 956.8 L2406.5 962.0 L2408.9 973.3 L2410.6 973.3 L2413.1 953.7 L2416.4 958.9 L2419.9 946.5 L2423.4 954.7 L2427.1 963.0 L2430.6 952.7 L2434.3 955.2 L2437.8 955.2 L2441.5 950.2 L2444.6 952.7 L2448.3 950.2 L2451.8 948.2 L2454.9 958.9 L2457.6 969.2 L2459.6 969.2 L2462.1 947.5 L2465.6 947.5 L2468.7 955.8 L2472.4 948.2 L2476.1 950.6 L2479.6 955.2 L2483.1 952.7 L2486.2 945.5 L2489.9 952.7 L2493.0 946.1 L2495.0 989.8 L2497.1 989.8 L2499.6 957.8 L2502.9 952.7 L2506.0 954.7 L2509.5 994.9 L2513.6 989.8 L2516.7 956.8 L2519.8 943.4 L2523.3 940.9 L2527.0 938.3 L2531.1 938.3 L2534.2 948.2 L2537.9 953.3 L2541.4 948.2 L2544.9 943.4 L2548.6 950.6 L2552.1 958.9 L2554.8 945.5 L2558.9 943.0 L2561.6 959.9 L2563.0 959.9 L2565.7 948.2 L2569.2 950.6 L2572.9 958.9 L2576.0 948.2 L2579.5 958.9 L2582.6 950.6 L2585.7 967.5 L2589.8 967.5 L2592.9 948.2 L2596.6 950.6 L2600.1 955.2 L2603.8 948.2 L2606.3 964.6 L2607.7 964.6 L2610.4 939.3 L2614.1 948.2 L2617.6 950.6 L2620.7 943.4 L2624.8 946.1 L2627.9 948.2 L2631.4 956.4 L2634.7 943.4 L2638.2 952.7 L2641.3 940.9 L2645.0 938.3 L2648.5 933.1 L2652.0 938.3 L2655.7 940.3 L2658.8 935.8 L2662.3 940.9 L2666.0 935.8 L2669.5 938.3 L2673.2 928.0 L2675.3 973.3 L2676.9 973.3 L2678.4 933.1 L2679.6 933.1 L2682.9 933.1 L2686.4 935.2 L2689.5 963.0 L2691.9 997.0 L2694.2 997.0 L2696.7 967.1 L2699.8 928.0 L2703.3 933.1 L2707.0 921.8 L2710.7 909.4 L2714.2 904.3 L2716.6 918.7 L2718.3 918.7 L2721.4 899.1 L2724.5 883.7 L2728.2 896.0 L2731.7 923.8 L2734.8 914.6 L2738.3 921.8 L2742.0 926.9 L2745.1 918.7 L2748.8 929.0 L2752.3 926.9 L2756.0 929.0 L2759.5 939.3 L2762.6 928.0 L2765.7 940.3 L2769.4 945.5 L2772.9 940.3 L2776.6 940.3 L2780.1 948.6 L2783.2 940.3 L2785.6 962.0 L2787.3 962.0 L2789.4 926.9 L2791.4 926.9 L2794.5 937.2" fill="none" stroke="#f6c74d" stroke-width="4.2" stroke-linejoin="round"/>
<path d="M2794.0 938.5 L2796.8 995.0" fill="none" stroke="#f6c74d" stroke-width="4" stroke-dasharray="4.6 6.4"/>
</svg>
<div class="t" style="left:1742.8px;top:746.7px;font-size:18.6px;color:#757575;font-weight:400;letter-spacing:0.00px;">Pharmaceutical</div>
<div class="t" style="left:1916.4px;top:746.7px;font-size:18.6px;color:#757575;font-weight:400;letter-spacing:0.32px;">cosmetics</div>
<div class="t" style="left:2046.6px;top:746.7px;font-size:18.6px;color:#757575;font-weight:400;letter-spacing:-0.07px;">healthcare</div>
<div class="t" style="left:2178.0px;top:746.7px;font-size:18.6px;color:#757575;font-weight:400;letter-spacing:0.22px;">cosmaceuticals</div>
<div class="t" style="left:2353.2px;top:746.7px;font-size:18.6px;color:#757575;font-weight:400;letter-spacing:0.05px;">surgicals</div>
<div class="t" style="left:1857.6px;top:873.3px;font-size:16px;color:#bdbdbd;font-weight:400;letter-spacing:-0.25px;">100</div>
<div class="t" style="left:1866.6px;top:933.3px;font-size:16px;color:#bdbdbd;font-weight:400;letter-spacing:-0.60px;">75</div>
<div class="t" style="left:1866.6px;top:993.3px;font-size:16px;color:#bdbdbd;font-weight:400;letter-spacing:-0.60px;">50</div>
<div class="t" style="left:1866.6px;top:1052.9px;font-size:16px;color:#bdbdbd;font-weight:400;letter-spacing:-0.60px;">25</div>
<div class="t" style="left:1763.8px;top:1125.1px;font-size:16px;color:#9e9e9e;font-weight:400;letter-spacing:-0.52px;">Average</div>
<div class="t" style="left:1852.0px;top:1127.1px;font-size:16px;color:#9e9e9e;font-weight:400;letter-spacing:-0.16px;">Jul 21, 2019</div>
<div class="t" style="left:2282.6px;top:1127.1px;font-size:16px;color:#9e9e9e;font-weight:400;letter-spacing:-0.57px;">Dec 5, 2021</div>
<div class="t" style="left:2707.6px;top:1127.1px;font-size:16px;color:#9e9e9e;font-weight:400;letter-spacing:-0.22px;">Apr 21, 2024</div>
<div class="t" style="left:2328.6px;top:992.5px;font-size:16px;color:#9e9e9e;font-weight:400;letter-spacing:-0.45px;transform:rotate(-90deg);transform-origin:50% 50%;">Note</div>
<div style="position:absolute;left:395px;top:1299.8px;width:2486px;height:280.8px;background:#fff;border-radius:11px;overflow:hidden;box-shadow:0 5px 10px rgba(20,20,50,.065);"><div style="position:absolute;left:0;top:137.2px;width:2486px;height:52.6px;background:#e6e6e6"></div></div>
<div class="t" style="left:435.8px;top:1338.4px;font-size:27.2px;color:#231f20;font-weight:400;letter-spacing:1.36px;-webkit-text-stroke:0.75px #231f20;">Recent Transactions</div>
<div class="t" style="left:435.8px;top:1378.3px;font-size:19.9px;color:#6c6f75;font-weight:400;letter-spacing:0.54px;-webkit-text-stroke:0.15px #6c6f75;">View your recent transactions</div>
<div style="position:absolute;left:2559px;top:1355px;width:93.8px;height:49px;background:#ebebf7;border-radius:8.5px;"></div>
<div class="t" style="left:2580.2px;top:1370.0px;font-size:18.9px;color:#3633a8;font-weight:400;letter-spacing:1.15px;-webkit-text-stroke:0.5px #3633a8;">Week</div>
<div class="t" style="left:2674.8px;top:1370.0px;font-size:18.9px;color:#4d4f7c;font-weight:400;letter-spacing:1.52px;-webkit-text-stroke:0.5px #4d4f7c;">Month</div>
<div class="t" style="left:2776.8px;top:1370.0px;font-size:18.9px;color:#4d4f7c;font-weight:400;letter-spacing:1.34px;-webkit-text-stroke:0.5px #4d4f7c;">Year</div>
<div class="t" style="left:431.4px;top:1450.8px;font-size:23.4px;color:#231f20;font-weight:400;-webkit-text-stroke:0.5px #231f20;">#</div>
<div class="t" style="left:586.0px;top:1453.3px;font-size:19.9px;color:#231f20;font-weight:400;letter-spacing:1.12px;-webkit-text-stroke:0.5px #231f20;">Transaction ID</div>
<div class="t" style="left:928.0px;top:1453.3px;font-size:19.9px;color:#231f20;font-weight:400;letter-spacing:1.46px;-webkit-text-stroke:0.5px #231f20;">Date</div>
<div class="t" style="left:1236.2px;top:1453.3px;font-size:19.9px;color:#231f20;font-weight:400;letter-spacing:1.60px;-webkit-text-stroke:0.5px #231f20;">From</div>
<div class="t" style="left:1488.4px;top:1453.3px;font-size:19.9px;color:#231f20;font-weight:400;letter-spacing:2.58px;-webkit-text-stroke:0.5px #231f20;">To</div>
<div class="t" style="left:1880.0px;top:1453.3px;font-size:19.9px;color:#231f20;font-weight:400;letter-spacing:1.57px;-webkit-text-stroke:0.5px #231f20;">Product</div>
<div class="t" style="left:2332.0px;top:1453.3px;font-size:19.9px;color:#231f20;font-weight:400;letter-spacing:2.21px;-webkit-text-stroke:0.5px #231f20;">Amount</div>
<div class="t" style="left:2780.2px;top:1453.3px;font-size:19.9px;color:#231f20;font-weight:400;letter-spacing:1.48px;-webkit-text-stroke:0.5px #231f20;">Status</div>
<div style="position:absolute;left:431px;top:1505px;width:40px;height:40px;background:#60b481;border-radius:7px;"></div>
<svg style="left:431px;top:1505px" width="40" height="40" viewBox="431 1505 40 40">
<path d="M442 1516.6 L455.6 1530" stroke="#94cdac" stroke-width="2.8" stroke-linecap="round"/>
<path d="M444.2 1533.6 L458 1532.8 L458 1518" fill="none" stroke="#fff" stroke-width="3.4" stroke-linecap="round" stroke-linejoin="round"/></svg>
<div class="t" style="left:585.6px;top:1514.1px;font-size:19.7px;color:#6c6f75;font-weight:400;-webkit-text-stroke:0.45px #6c6f75;">1</div>
<div class="t" style="left:928.0px;top:1514.1px;font-size:19.7px;color:#6c6f75;font-weight:400;letter-spacing:0.92px;-webkit-text-stroke:0.45px #6c6f75;">2024-08-01</div>
<div class="t" style="left:1236.2px;top:1514.1px;font-size:19.7px;color:#6c6f75;font-weight:400;letter-spacing:0.90px;-webkit-text-stroke:0.45px #6c6f75;">Thomas</div>
<div style="position:absolute;left:1488px;top:1505px;width:40px;height:40px;background:#cccccc;border-radius:50%;"></div>
<div class="t" style="left:1501.6px;top:1523.0px;font-size:4.2px;color:#a6a6a6;font-weight:400;letter-spacing:-0.45px;">150x150</div>
<div class="t" style="left:1539.4px;top:1514.1px;font-size:19.7px;color:#6c6f75;font-weight:400;letter-spacing:0.47px;-webkit-text-stroke:0.45px #6c6f75;">Dr. Jackson</div>
<svg style="left:1878px;top:1506px" width="38" height="38" viewBox="1878 1506 38 38">
<circle cx="1896.5" cy="1524.4" r="16.5" fill="#f3ad4b"/>
<g fill="none" stroke="#fff" stroke-width="2.3" stroke-linejoin="round">
<path d="M1888.4 1517.1 H1899.4 Q1903.6 1517.1 1903.6 1520.7 Q1903.6 1524.4 1899.4 1524.4 H1891.6 M1891.6 1524.4 H1899.8 Q1904 1524.4 1904 1528.1 Q1904 1531.8 1899.8 1531.8 H1888.4 M1891.6 1517.1 V1531.8"/>
<path d="M1894 1514 V1517 M1899 1514 V1517 M1894 1532 V1535 M1899 1532 V1535"/></g></svg>
<div class="t" style="left:1923.6px;top:1514.1px;font-size:19.7px;color:#6c6f75;font-weight:400;letter-spacing:1.10px;-webkit-text-stroke:0.45px #6c6f75;">Pharmaceutical</div>
<div class="t" style="left:2332.0px;top:1514.1px;font-size:19.7px;color:#60b481;font-weight:400;letter-spacing:0.35px;-webkit-text-stroke:0.5px #60b481;">$5,553.00</div>
<div style="position:absolute;left:2735px;top:1510px;width:109px;height:29.6px;background:#60b481;border-radius:6px;"></div>
<div class="t" style="left:2746.8px;top:1517.5px;font-size:14.6px;color:#fff;font-weight:700;letter-spacing:-0.75px;">COMPLETED</div>
</div></body></html>
